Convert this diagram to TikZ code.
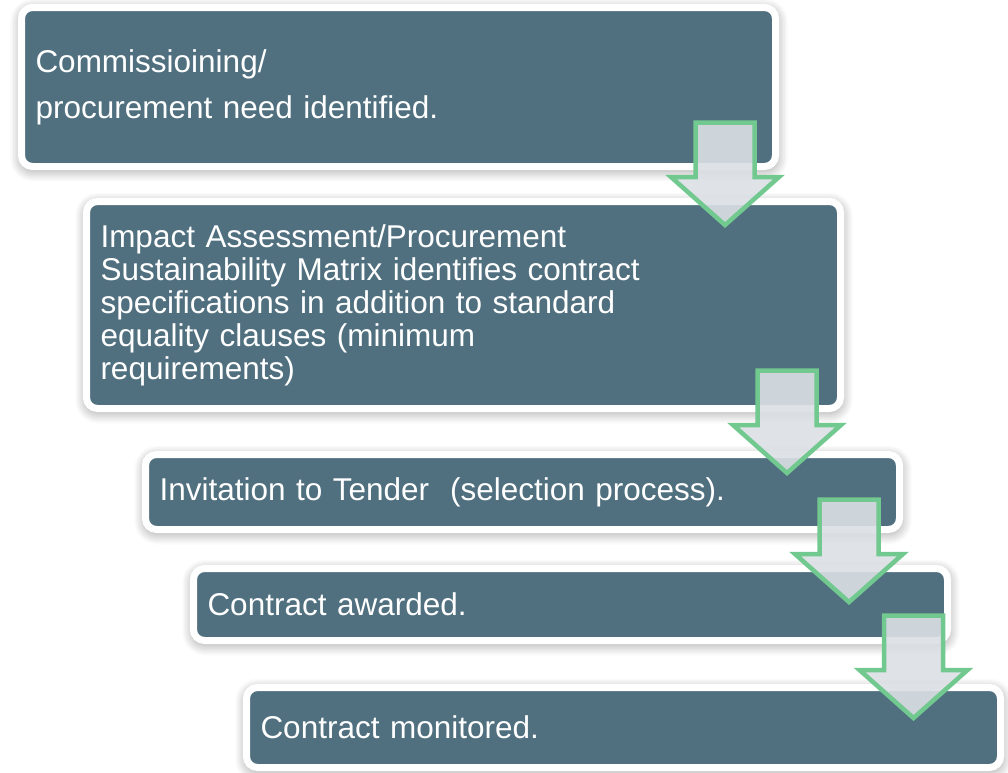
\documentclass[tikz,border=0pt]{standalone}
\usepackage{fontspec}
\setmainfont{Liberation Sans}
\usetikzlibrary{calc,shadows.blur}
\definecolor{stagefill}{HTML}{50707F}
\definecolor{arrowfill}{HTML}{DBDFE4}
\definecolor{arrowedge}{HTML}{72C98F}

\tikzset{
  pics/downstep/.style={code={
    \draw[flowarrow] (-29.5,0) -- (29.5,0) -- (29.5,54.5) -- (54,54.5)
      -- (0,102.5) -- (-54,54.5) -- (-29.5,54.5) -- cycle;
  }}
}

\begin{document}
\begin{tikzpicture}[
  x=1pt,
  y=-1pt,
  stagebox/.style={anchor=north west, fill=stagefill, draw=white, line width=7pt,
    rounded corners=11pt, minimum width=754pt, text width=726pt,
    inner xsep=14pt, inner ysep=0pt, outer sep=0pt, align=left, text=white,
    font=\fontsize{31.5}{33}\selectfont,
    blur shadow={shadow xshift=0.5pt, shadow yshift=-3pt,
      shadow blur radius=12pt, shadow blur steps=8, shadow opacity=45}},
  flowarrow/.style={fill=arrowfill, fill opacity=0.9, draw=arrowedge,
    line width=4.5pt, line join=miter}
]
  % ---- page frame ------------------------------------------------------
  \useasboundingbox (0,0) rectangle (1008,772);

  % ---- the five stages -------------------------------------------------
  \node[stagebox, minimum height=159pt] (need) at (21.5,7.5)
    {Commissioining/\\[13pt]procurement need identified.};
  \node[stagebox, minimum height=207pt] (matrix) at (86.5,201.5)
    {Impact Assessment/Procurement\\
     Sustainability Matrix identifies contract\\
     specifications in addition to standard\\
     equality clauses (minimum\\
     requirements)};
  \node[stagebox, minimum height=75pt] (tender) at (145.5,454.5)
    {Invitation to Tender\ \ (selection process).};
  \node[stagebox, minimum height=72pt] (award) at (193.5,568.5)
    {Contract awarded.};
  \node[stagebox, minimum height=80pt] (monitor) at (246.5,687.5)
    {Contract monitored.};

  % ---- block arrows between stages -------------------------------------
  \pic at ($(need.south east)+(-50.5,-44)$) {downstep};
  \pic at ($(matrix.south east)+(-53.5,-38)$) {downstep};
  \pic at ($(tender.south east)+(-50.5,-30)$) {downstep};
  \pic at ($(award.south east)+(-34,-25)$) {downstep};
\end{tikzpicture}
\end{document}
